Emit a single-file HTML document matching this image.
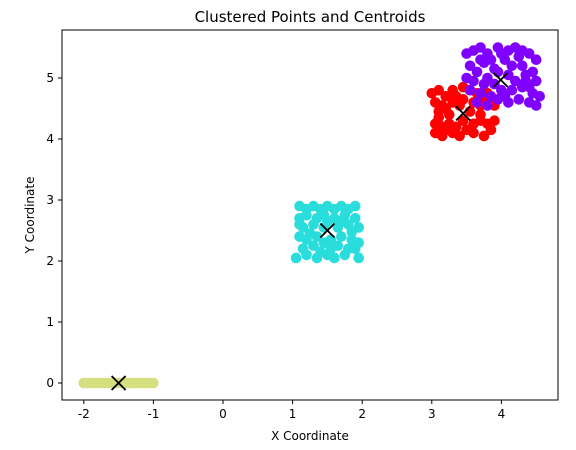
<!DOCTYPE html>
<html><head><meta charset="utf-8"><style>
body{margin:0;background:#fff;font-family:"DejaVu Sans",sans-serif}
svg text{font-family:"DejaVu Sans",sans-serif;fill:#000}
</style></head><body>
<svg id="chart" width="576" height="446" viewBox="0 0 576 446">
<text x="310" y="22" font-size="15" text-anchor="middle">Clustered Points and Centroids</text>
<g id="marks"></g>
<rect x="62" y="30" width="496" height="370" fill="none" stroke="#000" stroke-width="1"/>
<g id="axes"></g>
<text x="310" y="440" font-size="12" text-anchor="middle">X Coordinate</text>
<text x="34" y="215" font-size="12" text-anchor="middle" transform="rotate(-90 34 215)">Y Coordinate</text>
</svg>
<script>
const xTicks=[-2,-1,0,1,2,3,4];
const yTicks=[0,1,2,3,4,5];
const purplePts=[[3.5,5.4],[3.6,5.45],[3.7,5.5],[3.8,5.4],[3.95,5.5],[4.1,5.45],[4.2,5.5],[4.3,5.45],[4.4,5.4],[4.5,5.3],[3.55,5.2],[3.65,5.1],[3.75,5.25],[3.9,5.15],[4.05,5.3],[4.15,5.2],[4.3,5.2],[4.45,5.1],[3.5,5.0],[3.6,4.95],[3.8,5.0],[3.9,4.9],[4.1,5.05],[4.2,4.95],[4.35,4.95],[4.5,4.95],[3.55,4.8],[3.7,4.75],[3.85,4.7],[4.0,4.8],[4.15,4.8],[4.3,4.85],[4.45,4.75],[3.95,4.65],[4.1,4.6],[4.25,4.65],[4.4,4.6],[4.5,4.55],[4.55,4.7],[3.65,4.6],[3.8,4.55],[3.95,5.1],[4.25,5.35],[3.7,5.3],[3.85,5.3],[4.35,5.05],[4.0,5.4],[3.75,4.9],[4.05,4.7],[4.4,4.85]];
const redPts=[[3.0,4.75],[3.1,4.8],[3.2,4.7],[3.3,4.8],[3.45,4.85],[3.55,4.8],[3.65,4.75],[3.75,4.65],[3.85,4.6],[3.05,4.6],[3.15,4.55],[3.3,4.6],[3.45,4.65],[3.6,4.6],[3.7,4.55],[3.9,4.55],[3.1,4.45],[3.25,4.4],[3.55,4.45],[3.7,4.4],[3.05,4.25],[3.15,4.2],[3.25,4.25],[3.35,4.2],[3.5,4.15],[3.6,4.25],[3.7,4.3],[3.8,4.25],[3.9,4.3],[3.05,4.1],[3.15,4.05],[3.3,4.1],[3.4,4.05],[3.6,4.1],[3.75,4.05],[3.85,4.15],[3.2,4.15],[3.45,4.3],[3.35,4.7],[3.2,4.5],[3.4,4.55],[3.8,4.75],[3.1,4.35]];
const cyanPts=[[1.1,2.9],[1.2,2.85],[1.3,2.9],[1.4,2.85],[1.5,2.9],[1.6,2.85],[1.7,2.9],[1.8,2.85],[1.9,2.9],[1.1,2.7],[1.2,2.75],[1.35,2.7],[1.45,2.75],[1.6,2.7],[1.75,2.75],[1.9,2.7],[1.15,2.55],[1.3,2.6],[1.45,2.55],[1.65,2.55],[1.8,2.6],[1.95,2.55],[1.1,2.4],[1.2,2.35],[1.35,2.4],[1.55,2.35],[1.7,2.4],[1.85,2.35],[1.95,2.3],[1.15,2.2],[1.3,2.25],[1.4,2.15],[1.55,2.2],[1.65,2.25],[1.8,2.2],[1.9,2.2],[1.05,2.05],[1.2,2.1],[1.35,2.05],[1.5,2.1],[1.6,2.05],[1.75,2.1],[1.95,2.05],[1.25,2.45],[1.7,2.65],[1.1,2.6],[1.5,2.65],[1.85,2.48],[1.45,2.3]];
const yellowPts=[[-2,0],[-1.95,0],[-1.9,0],[-1.85,0],[-1.8,0],[-1.75,0],[-1.7,0],[-1.65,0],[-1.6,0],[-1.55,0],[-1.5,0],[-1.45,0],[-1.4,0],[-1.35,0],[-1.3,0],[-1.25,0],[-1.2,0],[-1.15,0],[-1.1,0],[-1.05,0],[-1,0]];
const centroids=[[3.99,4.97],[3.45,4.42],[1.5,2.5],[-1.5,0]];
const sx=v=>223+v*69.6, sy=v=>383-v*61;
const NS="http://www.w3.org/2000/svg";
const marks=document.getElementById('marks'), axes=document.getElementById('axes');
function el(t,a,p){const e=document.createElementNS(NS,t);for(const k in a)e.setAttribute(k,a[k]);p.appendChild(e);return e;}
function drawCluster(pts,color,name){pts.forEach(p=>{const c=el('circle',{cx:sx(p[0]),cy:sy(p[1]),r:5.3,fill:color},marks);

});}
drawCluster(yellowPts,'#d4df80','yellow-point');
drawCluster(cyanPts,'#2adddd','cyan-point');
drawCluster(redPts,'#ff0000','red-point');
drawCluster(purplePts,'#8000ff','purple-point');
centroids.forEach(c=>{const x=sx(c[0]),y=sy(c[1]);const g=el('g',{},marks);


el('path',{d:`M${x-7} ${y-7}L${x+7} ${y+7}M${x-7} ${y+7}L${x+7} ${y-7}`,stroke:'#000','stroke-width':1.8},g);});
xTicks.forEach(v=>{const x=sx(v);el('line',{x1:x,x2:x,y1:400,y2:404,stroke:'#000'},axes);
const t=el('text',{x:x,y:418,'font-size':12,'text-anchor':'middle'},axes);t.textContent=v;

});
yTicks.forEach(v=>{const y=sy(v);el('line',{x1:58,x2:62,y1:y,y2:y,stroke:'#000'},axes);
const t=el('text',{x:54,y:y+4,'font-size':12,'text-anchor':'end'},axes);t.textContent=v;

});
</script>
</body></html>
